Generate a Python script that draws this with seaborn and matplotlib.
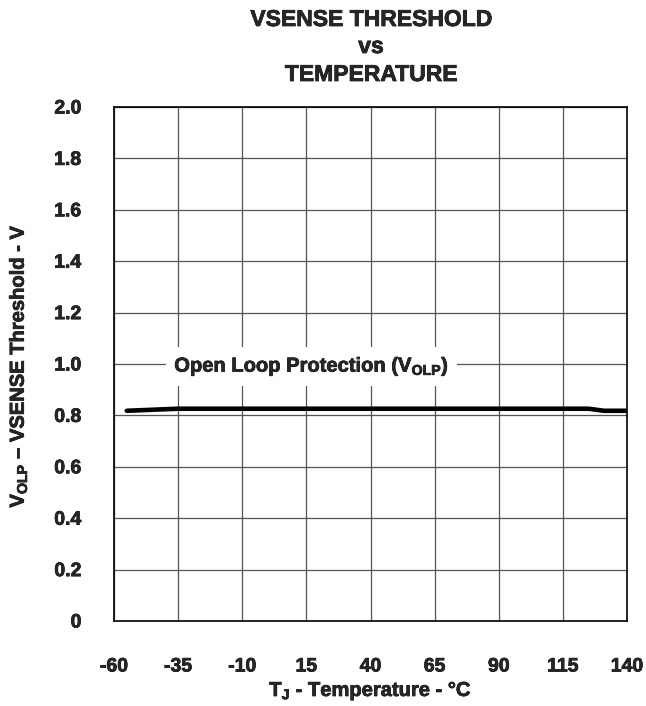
import matplotlib
matplotlib.use("Agg")
import matplotlib.pyplot as plt
import matplotlib.patheffects as pe
import seaborn as sns
import pandas as pd

temps = [-55, -35, -10, 15, 40, 65, 90, 115, 125, 131, 140]
volp = [0.818, 0.826, 0.826, 0.826, 0.826, 0.826, 0.826, 0.826, 0.826, 0.818, 0.818]
x_ticks = [-60, -35, -10, 15, 40, 65, 90, 115, 140]
y_ticks = [0, 0.2, 0.4, 0.6, 0.8, 1.0, 1.2, 1.4, 1.6, 1.8, 2.0]
y_tick_labels = ["0", "0.2", "0.4", "0.6", "0.8", "1.0", "1.2", "1.4", "1.6", "1.8", "2.0"]

sns.set_theme(style="white")
plt.rcParams['font.family'] = ['Liberation Sans', 'DejaVu Sans']
plt.rcParams['font.weight'] = 'bold'
plt.rcParams['mathtext.fontset'] = 'custom'
plt.rcParams['mathtext.rm'] = 'Liberation Sans:bold'
plt.rcParams['mathtext.it'] = 'Liberation Sans:bold'
plt.rcParams['mathtext.bf'] = 'Liberation Sans:bold'

heavy = [pe.withStroke(linewidth=0.5, foreground='black')]

df = pd.DataFrame({"T": temps, "V": volp})

W, H = 646, 706
L, R, T, B = 114, 627, 107, 621
fig = plt.figure(figsize=(W/100, H/100), dpi=100)
ax = fig.add_axes([L/W, 1-B/H, (R-L)/W, (B-T)/H])

sns.lineplot(data=df, x="T", y="V", ax=ax, color="black", linewidth=3.3, zorder=3)

ax.set_xlim(-60, 140)
ax.set_ylim(0, 2.0)
ax.set_xticks(x_ticks)
ax.set_xticklabels([str(t) for t in x_ticks], fontsize=14, fontweight='bold')
ax.set_yticks(y_ticks)
ax.set_yticklabels(y_tick_labels, fontsize=14, fontweight='bold')
ax.tick_params(axis='x', length=0, pad=27)
ax.tick_params(axis='y', length=0, pad=23.5)
ax.grid(True, color="#555555", linewidth=0.9)
for s in ax.spines.values():
    s.set_color("black")
    s.set_linewidth(1.2)

ax.set_xlabel(r"$\mathregular{T_J}$ - Temperature - °C", fontsize=14.5, fontweight='bold', va='baseline')
ax.xaxis.set_label_coords(0.5, -(696-B)/(B-T))
ax.set_ylabel(r"$\mathregular{V_{OLP}}$ – VSENSE Threshold - V", fontsize=14.5, fontweight='bold', va='center')
ax.yaxis.set_label_coords(-(L-18)/(R-L), 1-(366-T)/(B-T))

ax.text(17, 0.97, r"Open Loop Protection ($\mathregular{V_{OLP}}$)", fontsize=14.5, fontweight='bold',
        ha='center', va='baseline', zorder=4, path_effects=heavy,
        bbox=dict(facecolor='white', edgecolor='none', boxstyle='square,pad=0.4'))

for txt, yb in [("VSENSE THRESHOLD", 26), ("vs", 53), ("TEMPERATURE", 81)]:
    fig.text(371/W, 1-yb/H, txt, ha='center', va='baseline', fontsize=16.5, fontweight='bold',
             path_effects=heavy)

for t in ax.get_xticklabels() + ax.get_yticklabels() + [ax.xaxis.label, ax.yaxis.label]:
    t.set_path_effects(heavy)

fig.savefig("out.png", dpi=100)
